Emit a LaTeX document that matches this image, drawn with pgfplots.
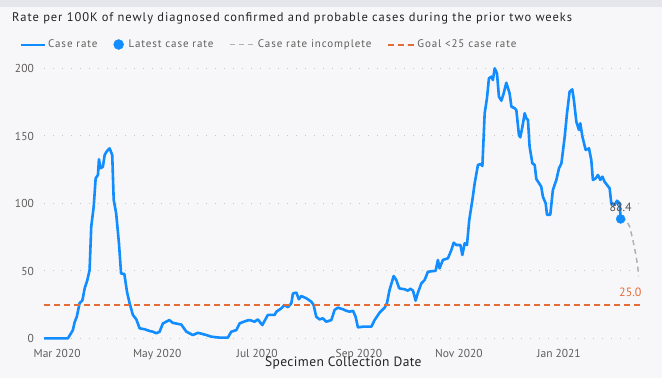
\documentclass[border=0pt]{standalone}
\usepackage{pgfplots}
\pgfplotsset{compat=1.18}
\usepackage{fontspec}
\setmainfont{PT Sans}
\newfontfamily\titlefont[LetterSpace=7.5]{PT Sans}
\newfontfamily\legfont[LetterSpace=8]{PT Sans}
\newfontfamily\labfont[LetterSpace=3]{PT Sans}
\definecolor{pbblue}{HTML}{118DFF}
\definecolor{orangec}{HTML}{E66C37}
\definecolor{grayd}{HTML}{B3B0AD}
\definecolor{gridc}{HTML}{C8C6C4}
\definecolor{tickc}{HTML}{605E5C}
\definecolor{titlec}{HTML}{252423}
\definecolor{labc}{HTML}{505050}
\definecolor{bgc}{HTML}{F7F7F9}
\definecolor{bandc}{HTML}{E4E6EB}
\begin{document}
\begin{tikzpicture}[x=1pt,y=1pt]
\useasboundingbox (0,0) rectangle (662,378);
\fill[bgc] (0,0) rectangle (662,378);
\fill[bandc] (0,371) rectangle (662,378);
\node[anchor=base west, inner sep=0pt, text=titlec, font=\titlefont\fontsize{12.5}{14}\selectfont] at (12,356.3) {Rate per 100K of newly diagnosed confirmed and probable cases during the prior two weeks};
\begin{axis}[
  at={(44pt,39.7pt)}, anchor=south west,
  scale only axis, width=598.6pt, height=276.75pt,
  xmin=-8, xmax=357, ymin=0, ymax=205,
  clip=false,
  axis line style={draw=none}, tick style={draw=none},
  xtick={0,61,122,184,245,306},
  xticklabels={Mar 2020,May 2020,Jul 2020,Sep 2020,Nov 2020,Jan 2021},
  ytick={0,50,100,150,200},
  ymajorgrids,
  major grid style={color=gridc, line width=1pt, dash pattern=on 1.2pt off 7.8pt},
  /pgf/number format/assume math mode=true,
  x tick label style={anchor=base, inner sep=0pt, yshift=-18.7pt, text=tickc, font=\fontsize{11.5}{13}\selectfont},
  y tick label style={anchor=base east, inner sep=0pt, xshift=-10pt, yshift=-4.3pt, text=tickc, font=\fontsize{11.5}{13}\selectfont},
  xlabel={Specimen Collection Date},
  xlabel style={at={(axis description cs:0.5,0)}, anchor=base, inner sep=0pt, yshift=-28.5pt, text=titlec, font=\labfont\fontsize{13.5}{15}\selectfont},
  legend style={at={(axis description cs:0,1)}, anchor=west, xshift=-24pt, yshift=17.05pt,
    draw=none, fill=none, legend columns=4, font=\legfont\fontsize{11}{13}\selectfont, text=tickc,
    inner sep=0pt, nodes={inner sep=2pt},
    /tikz/every even column/.append style={column sep=14pt}},
  legend cell align=left,
]
\addplot[pbblue, line width=2.6pt, line join=round,
  legend image code/.code={\draw[pbblue, line width=2pt] (0pt,0pt) -- (24pt,0pt);}] coordinates {
(-8,0) (6.6,0) (9.6,6) (10.7,12) (12,16) (13.7,26) (15.4,28) (16.8,37) (18.4,43) (19.8,50.6)
(20.8,82.7) (22.3,97.5) (23.5,118.5) (24.9,121) (25.5,132.6) (26.5,126) (27.9,127) (29,135.8)
(30,138) (31,139.5) (32,140.7) (33.6,135.8) (34.5,102.5) (36,92.6) (37.7,70.4) (39,48) (41,47.6)
(42.6,34.5) (44.2,26) (46.2,17.3) (48.3,14) (50.3,7.4) (53.4,6.7) (56.4,5.4) (58.4,4.9) (60.5,3.7)
(62.5,4.9) (64.5,11) (68.4,13.5) (70.6,11.4) (75.7,10.2) (78.8,4.9) (82.8,2.4) (85.9,4.1) (91,2.4)
(94,1.2) (99,0.5) (104.1,0.5) (106.2,4.9) (109.3,6.1) (111.3,11.1) (115.4,13) (117.4,13.5)
(120.4,12.3) (122.4,14) (125.1,9.8) (128.5,17.3) (132.6,17.3) (133.7,19.7) (136.7,22.2) (138.7,24.7)
(140.7,23) (142.8,25.9) (143.8,33.3) (145.9,33.8) (147.4,28.9) (148.9,31.3) (152,29.6) (155,27.1)
(156.4,24.7) (158,16) (160,14) (162,14.8) (164.1,12.3) (167.2,13.5) (169.2,21) (171.2,22.7)
(174.3,21.5) (176.3,20.4) (178.4,19.7) (180.4,20.4) (182,16) (183.4,8.1) (186.5,8.6) (191.6,8.6)
(193.6,13.5) (196.6,19) (199.7,22.7) (201.1,25.9) (202.7,35.8) (205.2,46.1) (206.8,43.2) (208.6,37)
(211.9,36.3) (213.9,35.3) (215.4,36.7) (217,35.3) (218.6,27.9) (220,33.8) (222.1,40.7) (224.1,43.2)
(226.1,49.3) (230.8,50) (232.2,58) (233.2,51.8) (235.2,58) (238.3,59.3) (240.4,65.4) (241.8,70.8)
(243.4,69.1) (245.9,69.1) (247.1,61.7) (248.5,70.4) (249.9,69.1) (251.3,87.6) (253.2,102.4)
(254.6,114.8) (256.6,128.4) (258.1,129.1) (259.3,127.6) (260.7,166.7) (262.1,177.8) (263.3,192.6)
(264.8,193.8) (265.7,191.3) (266.8,200) (268.2,196.3) (269.4,179) (270.9,176) (272.3,181.5)
(273.9,189.3) (275.9,181.5) (277,171.6) (279,170.4) (280,169.1) (281.6,150.6) (282.4,148.9)
(283.7,156.7) (285.1,166.7) (286.1,163) (287.1,161.7) (288.1,141.9) (289.8,129.6) (291.2,128.4)
(292.2,118) (295.2,112.3) (296.2,104.9) (297.9,100) (298.7,91.5) (300.7,91.5) (302.3,109.9)
(304.4,117.3) (306,125.9) (307.5,129.6) (309.5,149.3) (310.9,166.7) (312.5,182.7) (314.1,184.4)
(315.1,176.5) (316.6,160.4) (318.2,154.3) (319,159.3) (320.3,149.3) (322.3,139.5) (324.3,140.7)
(325.7,132.1) (326.7,117.3) (328.4,118.5) (329.8,121) (331.2,117.3) (332.5,119.7) (333.8,116)
(335.3,113.6) (336.9,111.1) (337.9,100) (339.9,98.7) (341.4,101.9) (343,100) (343.6,88.4)
};
\addlegendentry{Case rate}
\addplot[only marks, mark=*, mark size=4.5pt, color=pbblue,
  legend image code/.code={\fill[pbblue] (5pt,0pt) circle (5pt); \path[draw=none,fill=none] (0pt,0pt) -- (13pt,0pt);}] coordinates {(343.6,88.4)};
\addlegendentry{Latest case rate}
\addplot[grayd, line width=1.5pt, dash pattern=on 5pt off 4pt,
  legend image code/.code={\draw[grayd, line width=1.5pt, dash pattern=on 5pt off 4pt] (0pt,0pt) -- (25pt,0pt);}] coordinates {
(343.6,88.4) (347,87.6) (349.1,82.7) (351.1,72.8) (352.7,63) (354.1,53) (354.5,46)
};
\addlegendentry{Case rate incomplete}
\addplot[orangec, line width=2pt, dash pattern=on 6pt off 4pt,
  legend image code/.code={\draw[orangec, line width=2pt, dash pattern=on 6pt off 4pt] (0pt,0pt) -- (26pt,0pt);}] coordinates {(-8,25) (357,25)};
\addlegendentry{Goal <25 case rate}
\node[text=labc, inner sep=0pt, font=\fontsize{12}{14}\selectfont] at (axis cs:343.6,96.9) {88.4};
\node[anchor=east, text=orangec, inner sep=0pt, font=\fontsize{12}{14}\selectfont] at (axis cs:356.4,33.9) {25.0};
\end{axis}
\end{tikzpicture}
\end{document}
